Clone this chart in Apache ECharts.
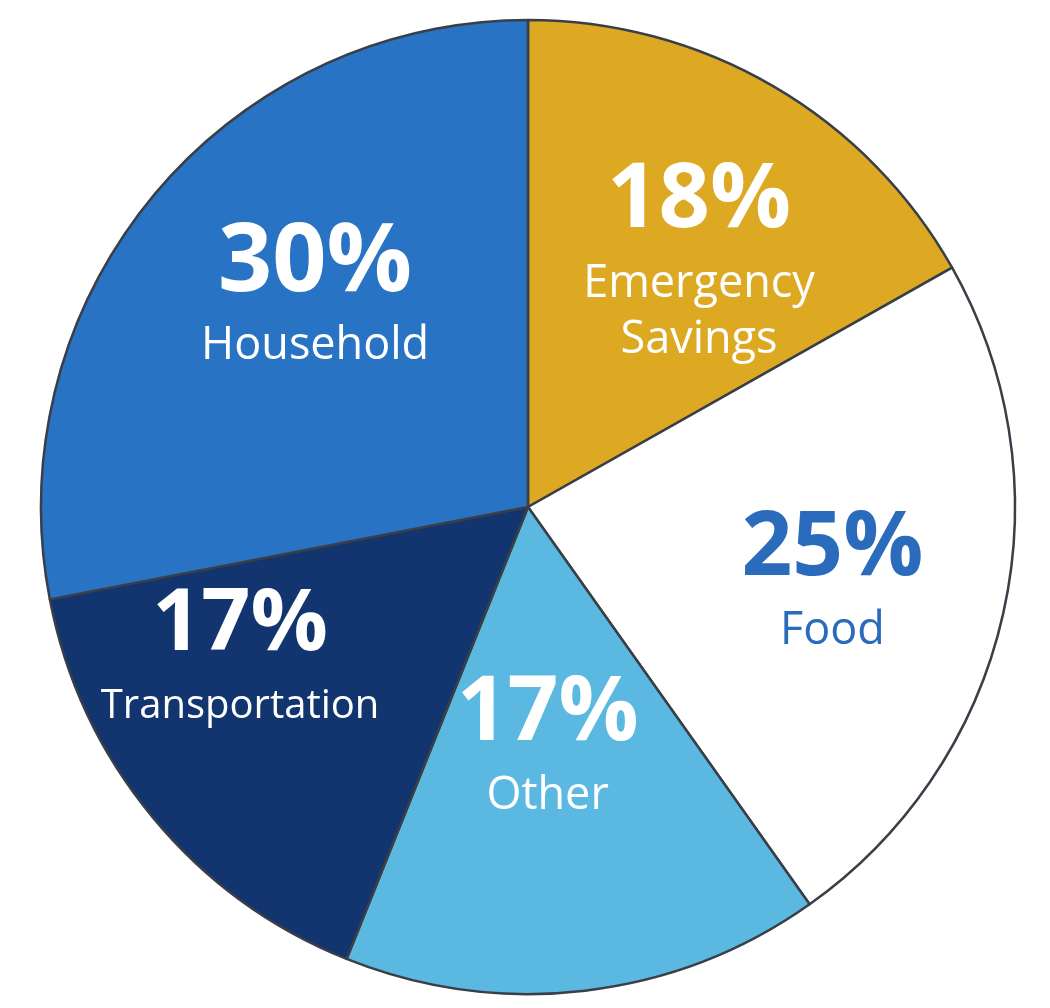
<!DOCTYPE html>
<html>
<head>
<meta charset="utf-8">
<script src="https://cdn.jsdelivr.net/npm/echarts@6/dist/echarts.min.js"></script>
<style>
  html, body { margin: 0; padding: 0; background: #fff; }
  #main { width: 1050px; height: 1008px; }
</style>
</head>
<body>
<div id="main"></div>
<script>
// budget split, clockwise from 12 o'clock
var categories = ['Emergency\nSavings', 'Food', 'Other', 'Transportation', 'Household'];
var shares = [18, 25, 17, 17, 30];

// styling per slice
var sliceColors = ['#DDA923', '#FFFFFF', '#5BB9E1', '#12356F', '#2873C4'];
var labelColors = ['#FFFFFF', '#2A6BBC', '#FFFFFF', '#FFFFFF', '#FFFFFF'];
var pctSizes = [90, 89, 89, 86, 95];
var nameSizes = [45, 45, 45, 40, 45];
var labelNudge = [[22, 6], [16, 6], [-15, -58], [-60, -42], [15, -27]];

var myChart = echarts.init(document.getElementById('main'));

var sliceData = [];
var labelData = [];
for (var i = 0; i < categories.length; i++) {
  sliceData.push({ name: categories[i], value: shares[i], itemStyle: { color: sliceColors[i] } });
  labelData.push({
    name: categories[i], value: shares[i],
    label: {
      rich: {
        pct: { color: labelColors[i], fontSize: pctSizes[i], fontWeight: 'bold', lineHeight: 108, fontFamily: 'Open Sans' },
        nm: { color: labelColors[i], fontSize: nameSizes[i], fontWeight: 500, lineHeight: 56, fontFamily: 'Open Sans' }
      }
    }
  });
}

var option = {
  animation: false,
  series: [
    {
      type: 'pie',
      center: [528, 507],
      radius: [0, 487],
      startAngle: 90,
      clockwise: true,
      silent: true,
      label: { show: false },
      labelLine: { show: false },
      itemStyle: { borderColor: '#3a3f47', borderWidth: 2.5 },
      data: sliceData
    },
    {
      // transparent copy, only here to carry the labels
      type: 'pie',
      center: [528, 507],
      radius: [98, 487],
      startAngle: 90,
      clockwise: true,
      silent: true,
      itemStyle: { color: 'rgba(0,0,0,0)', borderWidth: 0 },
      labelLine: { show: false },
      label: {
        show: true,
        position: 'inside',
        formatter: function (p) {
          var lines = p.name.split('\n').map(function (s) { return '{nm|' + s + '}'; });
          return '{pct|' + p.value + '%}\n' + lines.join('\n');
        }
      },
      labelLayout: function (params) {
        var n = labelNudge[params.dataIndex];
        return { dx: n[0], dy: n[1] };
      },
      data: labelData
    }
  ]
};
myChart.setOption(option);
</script>
</body>
</html>
